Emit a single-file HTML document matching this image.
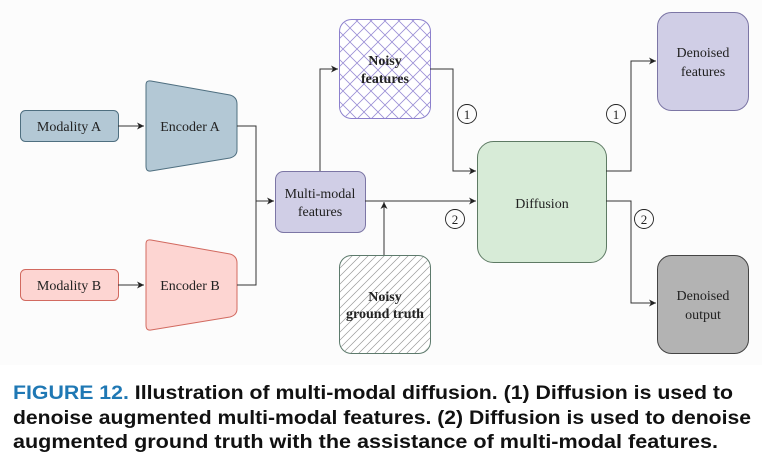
<!DOCTYPE html>
<html><head><meta charset="utf-8"><style>
html,body{margin:0;padding:0;background:#fff;}
svg{display:block;}
.serif{font-family:"Liberation Serif","Times New Roman",serif;}
.sans{font-family:"Liberation Sans",Arial,sans-serif;}
</style></head><body>
<svg width="762" height="472" viewBox="0 0 762 472" xmlns="http://www.w3.org/2000/svg">
<defs>
<pattern id="cross" width="14" height="14" patternUnits="userSpaceOnUse">
<path d="M0 0L14 14M14 0L0 14" stroke="#9b8fd6" stroke-width="0.8" fill="none"/>
</pattern>
<pattern id="diag" width="8" height="8" patternUnits="userSpaceOnUse">
<path d="M0 8L8 0M-2 2L2 -2M6 10L10 6" stroke="#999" stroke-width="0.7" fill="none"/>
</pattern>
<marker id="ar" markerWidth="8" markerHeight="8" refX="7" refY="4" orient="auto" markerUnits="userSpaceOnUse">
<path d="M0 0.5L7 4L0 7.5L2 4Z" fill="#222"/>
</marker>
</defs>
<rect width="762" height="365" fill="#fcfcfc"/>
<g class="serif" font-size="14" fill="#222" text-anchor="middle">
<rect x="20.5" y="110.5" width="98" height="31" rx="5" fill="#b3c8d5" stroke="#4f6f80"/>
<text x="69" y="131">Modality A</text>
<path d="M146 85 Q146 80 151 81 L230 95 Q237 97 237 104 L237 150 Q237 156 230 158 L151 171 Q146 172 146 166 Z" fill="#b3c8d5" stroke="#4f6f80"/>
<text x="190" y="131">Encoder A</text>
<rect x="20.5" y="269.5" width="98" height="31" rx="5" fill="#fdd5d2" stroke="#d26a60"/>
<text x="69" y="290">Modality B</text>
<path d="M146 244 Q146 239 151 240 L230 254 Q237 256 237 263 L237 309 Q237 315 230 317 L151 330 Q146 331 146 325 Z" fill="#fdd5d2" stroke="#d26a60"/>
<text x="190" y="290">Encoder B</text>
<rect x="275.5" y="171.5" width="90" height="61" rx="8" fill="#d0cee6" stroke="#7c76a5"/>
<text x="320" y="198">Multi-modal</text>
<text x="320" y="216">features</text>
<rect x="339.5" y="19.5" width="91" height="99" rx="12" fill="#fff" stroke="#8c80cc"/>
<rect x="340" y="20" width="90" height="98" rx="12" fill="url(#cross)"/>
<text x="385" y="65" font-weight="bold">Noisy</text>
<text x="385" y="83" font-weight="bold">features</text>
<rect x="339.5" y="255.5" width="91" height="98" rx="12" fill="#fff" stroke="#5d7a6c"/>
<rect x="340" y="256" width="90" height="97" rx="12" fill="url(#diag)"/>
<text x="385" y="301" font-weight="bold">Noisy</text>
<text x="385" y="318" font-weight="bold">ground truth</text>
<rect x="477.5" y="141.5" width="129" height="121" rx="16" fill="#d7ebd7" stroke="#5e7a64"/>
<text x="542" y="208">Diffusion</text>
<rect x="657.5" y="12.5" width="91" height="98" rx="14" fill="#d0cee6" stroke="#7c76a5"/>
<text x="703" y="57">Denoised</text>
<text x="703" y="76">features</text>
<rect x="657.5" y="255.5" width="91" height="98" rx="14" fill="#b3b3b3" stroke="#444"/>
<text x="703" y="300">Denoised</text>
<text x="703" y="319">output</text>
<g fill="none" stroke="#222" stroke-width="0.9">
<circle cx="467" cy="114" r="9.5"/><circle cx="455" cy="219" r="9.5"/>
<circle cx="616" cy="114" r="9.5"/><circle cx="644" cy="219" r="9.5"/>
</g>
<text x="467" y="119" font-size="13">1</text>
<text x="455" y="224" font-size="13">2</text>
<text x="616" y="119" font-size="13">1</text>
<text x="644" y="224" font-size="13">2</text>
</g>
<g fill="none" stroke="#333" stroke-width="1">
<path d="M118 126H144" marker-end="url(#ar)"/>
<path d="M118 285H144" marker-end="url(#ar)"/>
<path d="M237 126H256V285H237"/>
<path d="M256 201H274" marker-end="url(#ar)"/>
<path d="M320 171V69H338" marker-end="url(#ar)"/>
<path d="M430 69H453V171H476" marker-end="url(#ar)"/>
<path d="M365 201H476" marker-end="url(#ar)"/>
<path d="M384 255V202" marker-end="url(#ar)"/>
<path d="M606 171H631V61H656" marker-end="url(#ar)"/>
<path d="M606 201H631V303H656" marker-end="url(#ar)"/>
</g>
<g class="sans" font-weight="bold" font-size="19" fill="#111">
<text x="13" y="399" textLength="720" lengthAdjust="spacingAndGlyphs"><tspan fill="#1f78b4">FIGURE 12.</tspan> Illustration of multi-modal diffusion. (1) Diffusion is used to</text>
<text x="13" y="424" textLength="738" lengthAdjust="spacingAndGlyphs">denoise augmented multi-modal features. (2) Diffusion is used to denoise</text>
<text x="13" y="448" textLength="705" lengthAdjust="spacingAndGlyphs">augmented ground truth with the assistance of multi-modal features.</text>
</g>
</svg>
</body></html>
